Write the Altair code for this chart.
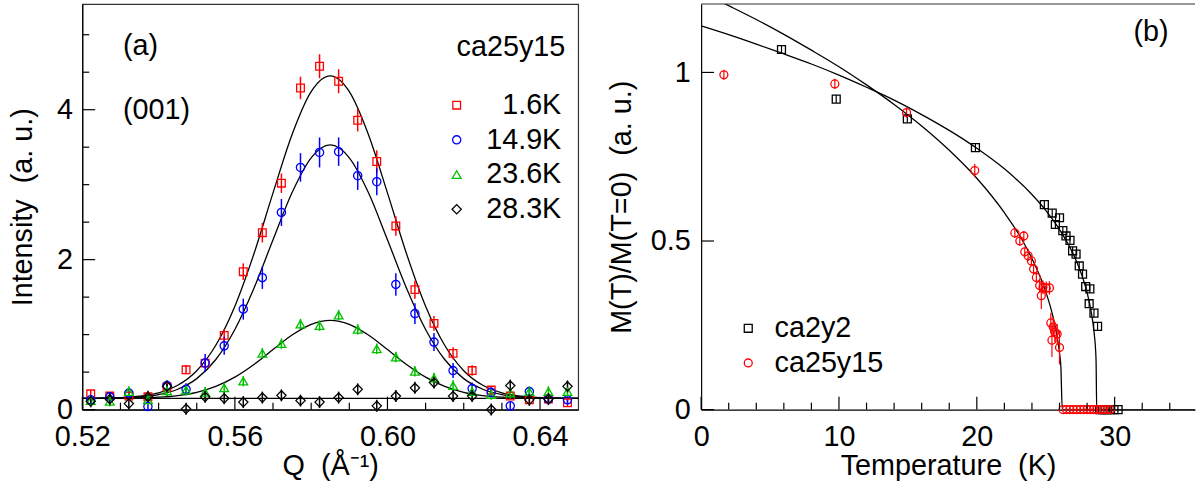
import altair as alt
import pandas as pd

FONT = "Liberation Sans"
FS = 29

# ---------------- panel (a): intensity vs Q ----------------
q_points = [0.5222, 0.5272, 0.5322, 0.5372, 0.5422, 0.5472, 0.5522, 0.5572, 0.5622, 0.5672,
            0.5722, 0.5772, 0.5822, 0.5872, 0.5922, 0.5972, 0.6022, 0.6072, 0.6122, 0.6172,
            0.6222, 0.6272, 0.6322, 0.6372, 0.6422, 0.6472]
i_16 = [0.21, 0.18, 0.18, 0.17, 0.30, 0.53, 0.62, 0.99, 1.84, 2.36, 3.02, 4.29, 4.58, 4.38,
        3.86, 3.31, 2.45, 1.60, 1.15, 0.75, 0.52, 0.26, 0.18, 0.13, 0.14, 0.09]
e_16 = [0.05, 0.05, 0.05, 0.05, 0.05, 0.06, 0.07, 0.08, 0.11, 0.13, 0.13, 0.15, 0.16, 0.16,
        0.15, 0.15, 0.13, 0.12, 0.10, 0.08, 0.07, 0.05, 0.05, 0.05, 0.05, 0.05]
i_149 = [0.13, 0.17, 0.22, 0.04, 0.32, 0.27, 0.62, 0.85, 1.34, 1.76, 2.63, 3.23, 3.43, 3.44,
         3.12, 3.04, 1.67, 1.28, 0.90, 0.52, 0.28, 0.23, 0.05, 0.24, 0.14, 0.13]
e_149 = [0.06, 0.06, 0.06, 0.06, 0.06, 0.08, 0.12, 0.12, 0.14, 0.15, 0.18, 0.19, 0.20, 0.19,
         0.19, 0.18, 0.15, 0.14, 0.12, 0.10, 0.08, 0.06, 0.06, 0.06, 0.06, 0.06]
i_236 = [0.12, 0.11, 0.24, 0.13, 0.25, 0.26, 0.23, 0.29, 0.38, 0.75, 0.88, 1.14, 1.12, 1.26,
         1.07, 0.81, 0.70, 0.51, 0.42, 0.32, 0.24, 0.20, 0.22, 0.24, 0.24, 0.24]
e_236 = [0.07] * 26
i_283 = [0.11, 0.14, 0.08, 0.17, 0.31, 0.01, 0.17, 0.15, 0.10, 0.16, 0.19, 0.12, 0.10, 0.16,
         0.27, 0.05, 0.18, 0.29, 0.36, 0.18, 0.18, 0.00, 0.32, 0.13, 0.14, 0.31]
e_283 = [0.08] * 26
temps_a = ["1.6K", "14.9K", "23.6K", "28.3K"]
colors_a = ["#ff0000", "#0000ff", "#00c000", "#000000"]
shapes_a = ["square", "circle", "triangle-up", "diamond"]
sizes_a = [60, 87, 72, 100]

fit_q = [0.520, 0.525, 0.530, 0.535, 0.540, 0.545, 0.550, 0.555, 0.560, 0.565, 0.570, 0.575,
         0.580, 0.585, 0.590, 0.595, 0.600, 0.605, 0.610, 0.615, 0.620, 0.625, 0.630, 0.635,
         0.640, 0.645, 0.650]
fit_16 = [0.151, 0.153, 0.160, 0.179, 0.224, 0.324, 0.519, 0.858, 1.379, 2.079, 2.890, 3.669,
          4.240, 4.450, 4.240, 3.669, 2.890, 2.079, 1.379, 0.858, 0.519, 0.324, 0.224, 0.179,
          0.160, 0.153, 0.151]
fit_149 = [0.150, 0.152, 0.156, 0.168, 0.200, 0.271, 0.413, 0.668, 1.069, 1.619, 2.265, 2.895,
           3.358, 3.530, 3.358, 2.895, 2.265, 1.619, 1.069, 0.668, 0.413, 0.271, 0.200, 0.168,
           0.156, 0.152, 0.150]
fit_236 = [0.150, 0.151, 0.152, 0.156, 0.165, 0.187, 0.231, 0.310, 0.433, 0.602, 0.801, 0.994,
           1.137, 1.190, 1.137, 0.994, 0.801, 0.602, 0.433, 0.310, 0.231, 0.187, 0.165, 0.156,
           0.152, 0.151, 0.150]
bg_q = [0.52, 0.65]
bg_i = [0.15, 0.15]

xa_major = [0.52, 0.56, 0.60, 0.64]
xa_minor = [0.53, 0.54, 0.55, 0.57, 0.58, 0.59, 0.61, 0.62, 0.63]
ya_major = [0, 2, 4]
ya_minor = [0.5, 1, 1.5, 2.5, 3, 3.5, 4.5, 5]

# ---------------- panel (b): M(T)/M(0) vs T ----------------
t_ca2y2 = [5.83, 9.8, 14.96, 19.9, 24.9, 25.47, 26.0, 25.7, 26.24, 26.47, 26.76, 26.95, 27.2,
           27.43, 27.67, 27.9, 28.2, 28.15, 28.5, 28.76,
           28.9, 29.1, 29.3, 29.5, 29.7, 29.95, 30.25]
m_ca2y2 = [1.068, 0.921, 0.862, 0.777, 0.608, 0.583, 0.569, 0.549, 0.531, 0.515, 0.502, 0.471,
           0.461, 0.426, 0.402, 0.365, 0.358, 0.314, 0.286, 0.247,
           0, 0, 0, 0, 0, 0, 0]
e_ca2y2 = [0.012] * 20 + [0.0] * 7
t_ca25 = [1.65, 9.7, 14.9, 19.85, 22.76, 23.12, 23.41, 23.48, 23.72, 23.96, 24.12, 24.32, 24.56,
          24.68, 24.8, 25.04, 25.27, 25.37, 25.45, 25.54, 25.66, 25.83, 26.0,
          26.25, 26.5, 26.75, 27.0, 27.25, 27.5, 27.75, 28.0, 28.2, 28.45, 28.7, 28.95, 29.2,
          29.45, 29.7]
m_ca25 = [0.993, 0.966, 0.881, 0.709, 0.524, 0.50, 0.515, 0.468, 0.456, 0.441, 0.417, 0.392,
          0.368, 0.338, 0.363, 0.36, 0.361, 0.257, 0.206, 0.245, 0.23, 0.224, 0.184,
          0, 0, 0, 0, 0, 0, 0, 0, 0, 0, 0, 0, 0, 0, 0]
e_ca25 = [0.015, 0.015, 0.015, 0.02, 0.015, 0.015, 0.015, 0.015, 0.015, 0.015, 0.015, 0.015,
          0.02, 0.04, 0.02, 0.02, 0.02, 0.03, 0.05, 0.03, 0.03, 0.03, 0.05] + [0.0] * 15
samples_b = ["ca2y2", "ca25y15"]
colors_b = ["#000000", "#ff0000"]
shapes_b = ["square", "circle"]

fitb_t_ca2y2 = [0, 2, 4, 6, 8, 10, 12, 14, 16, 18, 20, 22, 24, 25, 26, 27, 27.5, 28, 28.3,
                28.5, 28.65, 28.7, 36]
fitb_m_ca2y2 = [1.138, 1.112, 1.084, 1.055, 1.025, 0.992, 0.956, 0.918, 0.875, 0.828, 0.775,
                0.714, 0.638, 0.591, 0.534, 0.461, 0.412, 0.347, 0.290, 0.232, 0.149, 0.0, 0.0]
fitb_t_ca25 = [0, 2, 4, 6, 8, 10, 12, 14, 16, 18, 20, 22, 23, 24, 25, 25.5, 25.8, 26.0, 26.1,
               26.2, 36]
fitb_m_ca25 = [1.238, 1.198, 1.157, 1.113, 1.066, 1.017, 0.963, 0.905, 0.841, 0.769, 0.686,
               0.584, 0.523, 0.448, 0.350, 0.280, 0.223, 0.168, 0.126, 0.0, 0.0]

xb_major = [0, 10, 20, 30]
xb_minor = [2, 4, 6, 8, 12, 14, 16, 18, 22, 24, 26, 28, 32, 34]
yb_major = [0, 0.5, 1]

# ---------------- tables ----------------
rows = []
for name, ii, ee in zip(temps_a, [i_16, i_149, i_236, i_283], [e_16, e_149, e_236, e_283]):
    for q, v, e in zip(q_points, ii, ee):
        rows.append({"Q": q, "I": v, "lo": v - e, "hi": v + e, "series": name})
df_a = pd.DataFrame(rows)

rows = []
for name, vals in zip(["1.6K", "14.9K", "23.6K"], [fit_16, fit_149, fit_236]):
    for q, v in zip(fit_q, vals):
        rows.append({"Q": q, "I": v, "curve": name})
for q, v in zip(bg_q, bg_i):
    rows.append({"Q": q, "I": v, "curve": "bg"})
df_fit_a = pd.DataFrame(rows)

rows = []
for name, tt, mm, ee in zip(samples_b, [t_ca2y2, t_ca25], [m_ca2y2, m_ca25], [e_ca2y2, e_ca25]):
    for t, m, e in zip(tt, mm, ee):
        rows.append({"T": t, "M": m, "lo": m - e, "hi": m + e, "sample": name})
df_b = pd.DataFrame(rows)

rows = []
for name, tt, mm in zip(samples_b, [fitb_t_ca2y2, fitb_t_ca25], [fitb_m_ca2y2, fitb_m_ca25]):
    for t, m in zip(tt, mm):
        rows.append({"T": t, "M": m, "curve": name})
df_fit_b = pd.DataFrame(rows)

# ---------------- panel (a) chart ----------------
W_A, H = 500, 409
sx_a = alt.Scale(domain=[0.52, 0.65], nice=False, zero=False)
sy_a = alt.Scale(domain=[0, 5.41], nice=False, zero=False)
ax_xa = alt.Axis(values=xa_major, format=".2f", title="Q \u00a0(Å⁻¹)", ticks=False, tickSize=0,
                 grid=False, labelFontSize=FS, labelPadding=13, titleFontSize=FS,
                 titleFontWeight="normal", titleY=42, titleBaseline="top",
                 domainColor="black", domainWidth=1.2, labelColor="black", titleColor="black",
                 labelOverlap=False, labelFlush=False)
ax_ya = alt.Axis(values=ya_major, format="d", title="Intensity \u00a0(a. u.)", ticks=False,
                 tickSize=0, grid=False, labelFontSize=FS, labelPadding=10, titleFontSize=FS,
                 titleFontWeight="normal", titleX=-45, titleAngle=270, titleBaseline="bottom",
                 domainColor="black", domainWidth=1.2, labelColor="black", titleColor="black",
                 labelOverlap=False)


def xa(field):
    return alt.X(f"{field}:Q", scale=sx_a, axis=ax_xa)


def ya(field):
    return alt.Y(f"{field}:Q", scale=sy_a, axis=ax_ya)


col_a = alt.Scale(domain=temps_a, range=colors_a)
shp_a = alt.Scale(domain=temps_a, range=shapes_a)
leg_a = alt.Legend(title=None, orient="none", legendX=363, legendY=87.5, labelFontSize=FS,
                   labelAlign="right", labelOffset=91, symbolSize=64, symbolStrokeWidth=1.3,
                   rowPadding=5, padding=0, labelColor="black", labelLimit=300)

fits_a = alt.Chart(df_fit_a).mark_line(color="black", strokeWidth=1.3,
                                       interpolate="monotone").encode(
    x=xa("Q"), y=ya("I"), detail="curve:N")
err_a = alt.Chart(df_a).mark_rule(strokeWidth=1.5).encode(
    x=xa("Q"), y=ya("lo"), y2="hi",
    color=alt.Color("series:N", scale=col_a, legend=leg_a))
pts_a = alt.Chart(df_a).mark_point(filled=False, strokeWidth=1.3, opacity=1).encode(
    x=xa("Q"), y=ya("I"),
    color=alt.Color("series:N", scale=col_a, legend=leg_a),
    shape=alt.Shape("series:N", scale=shp_a, legend=leg_a),
    size=alt.Size("series:N", scale=alt.Scale(domain=temps_a, range=sizes_a), legend=None))

xt_major_a = alt.Chart(pd.DataFrame({"Q": xa_major})).mark_rule(color="black", strokeWidth=1.2).encode(
    x=xa("Q"), y=alt.value(H), y2=alt.value(H - 13))
xt_minor_a = alt.Chart(pd.DataFrame({"Q": xa_minor})).mark_rule(color="black", strokeWidth=1.2).encode(
    x=xa("Q"), y=alt.value(H), y2=alt.value(H - 7))
yt_major_a = alt.Chart(pd.DataFrame({"I": ya_major})).mark_rule(color="black", strokeWidth=1.2).encode(
    y=ya("I"), x=alt.value(0), x2=alt.value(13))
yt_minor_a = alt.Chart(pd.DataFrame({"I": ya_minor})).mark_rule(color="black", strokeWidth=1.2).encode(
    y=ya("I"), x=alt.value(0), x2=alt.value(7))

panel_a_labels = ["(a)", "(001)", "ca25y15"]
txt_a1 = alt.Chart(pd.DataFrame({"t": [panel_a_labels[0]]})).mark_text(
    align="left", baseline="alphabetic", fontSize=FS, color="black").encode(
    x=alt.value(41), y=alt.value(51), text="t:N")
txt_a2 = alt.Chart(pd.DataFrame({"t": [panel_a_labels[1]]})).mark_text(
    align="left", baseline="alphabetic", fontSize=FS, color="black").encode(
    x=alt.value(41), y=alt.value(116), text="t:N")
txt_a3 = alt.Chart(pd.DataFrame({"t": [panel_a_labels[2]]})).mark_text(
    align="right", baseline="alphabetic", fontSize=FS, color="black").encode(
    x=alt.value(487), y=alt.value(52), text="t:N")

left = alt.layer(fits_a, err_a, pts_a, xt_major_a, xt_minor_a, yt_major_a, yt_minor_a,
                 txt_a1, txt_a2, txt_a3).properties(width=W_A, height=H)

# ---------------- panel (b) chart ----------------
W_B = 498
sx_b = alt.Scale(domain=[0, 35.83], nice=False, zero=False)
sy_b = alt.Scale(domain=[0, 1.203], nice=False, zero=False)
ax_xb = alt.Axis(values=xb_major, format="d", title="Temperature \u00a0(K)", ticks=False,
                 tickSize=0, grid=False, labelFontSize=FS, labelPadding=13, titleFontSize=FS,
                 titleFontWeight="normal", titleY=42, titleBaseline="top",
                 domainColor="black", domainWidth=1.2, labelColor="black", titleColor="black",
                 labelOverlap=False, labelFlush=False)
ax_yb = alt.Axis(values=yb_major, format="~g", title="M(T)/M(T=0) \u00a0(a. u.)", ticks=False,
                 tickSize=0, grid=False, labelFontSize=FS, labelPadding=11, titleFontSize=FS,
                 titleFontWeight="normal", titleX=-65, titleAngle=270, titleBaseline="bottom",
                 domainColor="black", domainWidth=1.2, labelColor="black", titleColor="black",
                 labelOverlap=False)


def xb(field):
    return alt.X(f"{field}:Q", scale=sx_b, axis=ax_xb)


def yb(field):
    return alt.Y(f"{field}:Q", scale=sy_b, axis=ax_yb)


col_b = alt.Scale(domain=samples_b, range=colors_b)
shp_b = alt.Scale(domain=samples_b, range=shapes_b)
leg_b = alt.Legend(title=None, orient="none", legendX=33, legendY=312.5, labelFontSize=FS,
                   labelAlign="left", labelOffset=12, symbolSize=64, symbolStrokeWidth=1.3,
                   rowPadding=5, padding=0, labelColor="black", labelLimit=300)

fits_b = alt.Chart(df_fit_b).mark_line(color="black", strokeWidth=1.3, clip=True,
                                       interpolate="monotone").encode(
    x=xb("T"), y=yb("M"), detail="curve:N")
err_b = alt.Chart(df_b).mark_rule(strokeWidth=1.2).encode(
    x=xb("T"), y=yb("lo"), y2="hi",
    color=alt.Color("sample:N", scale=col_b, legend=leg_b))
pts_b = alt.Chart(df_b).mark_point(filled=False, strokeWidth=1.3, opacity=1, size=64).encode(
    x=xb("T"), y=yb("M"),
    color=alt.Color("sample:N", scale=col_b, legend=leg_b),
    shape=alt.Shape("sample:N", scale=shp_b, legend=leg_b))

xt_major_b = alt.Chart(pd.DataFrame({"T": xb_major})).mark_rule(color="black", strokeWidth=1.2).encode(
    x=xb("T"), y=alt.value(H), y2=alt.value(H - 13))
xt_minor_b = alt.Chart(pd.DataFrame({"T": xb_minor})).mark_rule(color="black", strokeWidth=1.2).encode(
    x=xb("T"), y=alt.value(H), y2=alt.value(H - 7))
yt_major_b = alt.Chart(pd.DataFrame({"M": yb_major})).mark_rule(color="black", strokeWidth=1.2).encode(
    y=yb("M"), x=alt.value(0), x2=alt.value(13))
top_b = alt.Chart(pd.DataFrame({"t": ["top"]})).mark_rule(color="#333333", strokeWidth=1.2).encode(
    x=alt.value(0), x2=alt.value(W_B), y=alt.value(0))

panel_b_labels = ["(b)"]
txt_b1 = alt.Chart(pd.DataFrame({"t": panel_b_labels})).mark_text(
    align="left", baseline="alphabetic", fontSize=FS, color="black").encode(
    x=alt.value(436), y=alt.value(37.5), text="t:N")

right = alt.layer(fits_b, err_b, pts_b, xt_major_b, xt_minor_b, yt_major_b, top_b,
                  txt_b1).properties(width=W_B, height=H,
                                     view=alt.ViewBackground(stroke=None))

chart = alt.hconcat(left, right, spacing=26).resolve_scale(
    color="independent", shape="independent", size="independent"
).resolve_legend(
    color="independent", shape="independent", size="independent"
).properties(
    padding={"left": 8, "top": 1, "right": 0, "bottom": 0}
).configure(font=FONT).configure_view(stroke="#333333", strokeWidth=1.2)

chart.save("out.html", embed_options={"renderer": "svg", "actions": False})
